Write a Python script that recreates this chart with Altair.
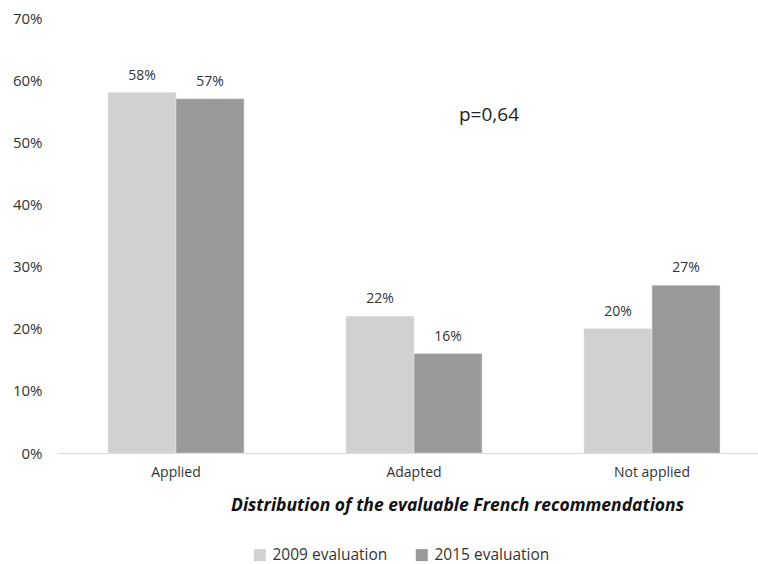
import altair as alt
import pandas as pd

categories = ["Applied", "Adapted", "Not applied"]
series = ["2009 evaluation", "2015 evaluation"]
values_2009 = [0.58, 0.22, 0.20]
values_2015 = [0.57, 0.16, 0.27]
colors = ["#D0D1D0", "#999999"]
p_label = "p=0,64"
x_title = "Distribution of the evaluable French recommendations"

rows = []
for c, v in zip(categories, values_2009):
    rows.append({"cat": c, "series": series[0], "value": v})
for c, v in zip(categories, values_2015):
    rows.append({"cat": c, "series": series[1], "value": v})
df = pd.DataFrame(rows)

FONT = "Open Sans"
TXT = "#333333"

x_enc = alt.X(
    "cat:N",
    sort=categories,
    scale=alt.Scale(range=[0, 714], paddingInner=0.4286, paddingOuter=0.2143),
    axis=alt.Axis(
        title=x_title,
        titleFont=FONT,
        titleFontSize=17.5,
        titleFontWeight="bold",
        titleFontStyle="italic",
        titleColor="#111111",
        titleX=400,
        titleY=52,
        titleAlign="center",
        titleBaseline="middle",
        labelAngle=0,
        labelFont=FONT,
        labelFontSize=14,
        labelColor=TXT,
        labelPadding=12,
        ticks=False,
        domainColor="#D9D9D9",
        domainWidth=1,
        grid=False,
    ),
)
xo_enc = alt.XOffset("series:N", sort=series, scale=alt.Scale(paddingInner=0, paddingOuter=0))
y_enc = alt.Y(
    "value:Q",
    scale=alt.Scale(domain=[0, 0.7]),
    axis=alt.Axis(
        title=None,
        format=".0%",
        values=[0, 0.1, 0.2, 0.3, 0.4, 0.5, 0.6, 0.7],
        labelFont=FONT,
        labelFontSize=15,
        labelColor=TXT,
        labelPadding=15,
        ticks=False,
        domain=False,
        grid=False,
    ),
)

bars = alt.Chart(df).mark_bar(stroke="#E4E4E4", strokeWidth=0.5).encode(
    x=x_enc,
    xOffset=xo_enc,
    y=y_enc,
    color=alt.Color(
        "series:N",
        sort=series,
        scale=alt.Scale(domain=series, range=colors),
        legend=alt.Legend(
            title=None,
            orient="none",
            legendX=195,
            legendY=529,
            direction="horizontal",
            symbolType="square",
            symbolSize=144,
            symbolStrokeWidth=0,
            labelFont=FONT,
            labelFontSize=15.5,
            labelColor=TXT,
            labelOffset=5,
            columnPadding=26,
            padding=0,
        ),
    ),
)

labels = alt.Chart(df).mark_text(
    dy=-10, font=FONT, fontSize=14, color=TXT, baseline="bottom"
).encode(
    x=x_enc,
    xOffset=xo_enc,
    y=y_enc,
    text=alt.Text("value:Q", format=".0%"),
)

ptext = alt.Chart(pd.DataFrame({"t": [p_label]})).mark_text(
    font=FONT, fontSize=19, color="#222222", align="center", baseline="middle"
).encode(
    x=alt.value(432),
    y=alt.value(97),
    text="t:N",
)

chart = (
    alt.layer(bars, labels, ptext)
    .properties(
        width=701,
        height=435,
        autosize=alt.AutoSizeParams(type="none"),
        padding={"left": 57, "top": 18, "right": 0, "bottom": 111},
        view=alt.ViewBackground(strokeOpacity=0, strokeWidth=0),
    )
    .configure_view(strokeWidth=0, strokeOpacity=0)
    .configure_axis(grid=False)
    .configure(background="white")
)

chart.save("out.html", embed_options={"renderer": "svg", "actions": False})
